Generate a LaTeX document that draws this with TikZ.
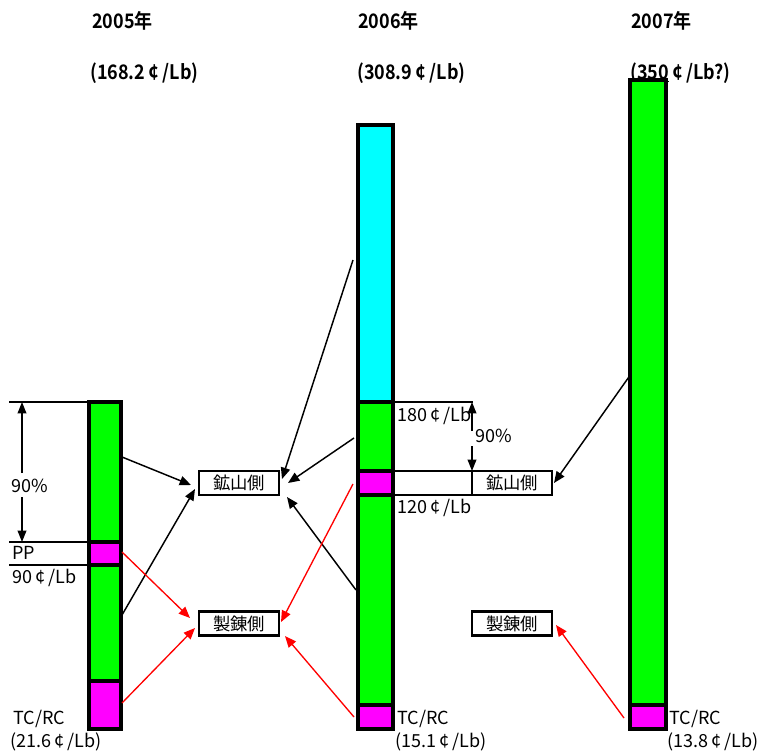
\documentclass[tikz,border=0pt]{standalone}
\usepackage{fontspec}
\setmainfont{Noto Sans CJK JP}
\newfontfamily\headfont[FakeStretch=0.9]{Noto Sans CJK JP Bold}
\usetikzlibrary{arrows.meta}
\definecolor{segG}{RGB}{0,255,0}
\definecolor{segM}{RGB}{255,0,255}
\definecolor{segC}{RGB}{0,255,255}
\definecolor{arrR}{RGB}{255,0,0}
\newcommand{\cpl}{\,¢\,/Lb}
\tikzset{
  barline/.style={draw=black, line width=3pt},
  sepline/.style={draw=black, line width=3pt},
  rule/.style={draw=black, line width=1.5pt},
  sidebox/.style={draw=black, line width=2pt, fill=white, minimum width=60pt,
    minimum height=18pt, inner sep=0pt, font=\fontsize{13}{14}\selectfont},
  lbl/.style={inner sep=0pt, anchor=west, font=\fontsize{13.5}{15}\selectfont},
  ttl/.style={inner sep=0pt, anchor=west, font=\headfont\fontsize{15}{16}\selectfont},
  blk/.style={draw=black, line width=1.1pt, -{Triangle[length=8.5pt,width=7pt]}},
  red/.style={draw=arrR, line width=1pt, -{Triangle[length=8.5pt,width=7pt]}},
  dim/.style={draw=black, line width=1.1pt, -{Triangle[length=8.5pt,width=6.5pt]}}
}
\begin{document}
\begin{tikzpicture}[x=0.75pt,y=-0.75pt]
\useasboundingbox (0,0) rectangle (758,753);

% ---- year headings
\node[ttl] (y05) at (92,21) {2005年};
\node[ttl] (p05) at (90,73) {(168.2\cpl)};
\node[ttl] (y06) at (358,21) {2006年};
\node[ttl] (p06) at (357,73) {(308.9\cpl)};
\node[ttl] (y07) at (631,21) {2007年};
\node[ttl] (p07) at (630,73) {(\underline{350}\cpl?)};

% ---- 2005 bar
\fill[segG] (89,402) rectangle (121,542);
\fill[segM] (89,542) rectangle (121,565);
\fill[segG] (89,565) rectangle (121,681);
\fill[segM] (89,681) rectangle (121,729);
\draw[sepline] (89,542) -- (121,542) (89,565) -- (121,565) (89,681) -- (121,681);
\draw[barline] (89,402) rectangle (121,729);

% ---- 2006 bar
\fill[segC] (358,125) rectangle (393,402);
\fill[segG] (358,402) rectangle (393,471);
\fill[segM] (358,471) rectangle (393,495);
\fill[segG] (358,495) rectangle (393,705);
\fill[segM] (358,705) rectangle (393,729);
\draw[sepline] (358,402) -- (393,402) (358,471) -- (393,471) (358,495) -- (393,495) (358,705) -- (393,705);
\draw[barline] (358,125) rectangle (393,729);

% ---- 2007 bar
\fill[segG] (630,80) rectangle (666,705);
\fill[segM] (630,705) rectangle (666,729);
\draw[sepline] (630,705) -- (666,705);
\draw[barline] (630,80) rectangle (666,729);

% ---- 2005 reference rules and 90% span
\draw[rule] (9,402) -- (89,402);
\draw[rule] (9,542) -- (89,542);
\draw[rule] (9,565) -- (89,565);
\node[lbl] (pct05) at (11,486) {90\%};
\coordinate (d05a) at (22,473);
\coordinate (d05b) at (22,402);
\coordinate (d05c) at (22,497);
\coordinate (d05d) at (22,542);
\draw[dim] (d05a) -- (d05b);
\draw[dim] (d05c) -- (d05d);
\node[lbl] (pp) at (12,553) {PP};
\node[lbl] (pp90) at (12,578) {90\cpl};
\node[lbl] (tc05) at (13,719) {TC/RC};
\node[lbl] (tc05v) at (10,742) {(21.6\cpl)};

% ---- 2006 reference rules and 90% span
\draw[rule] (393,402) -- (473,402);
\draw[rule] (393,471) -- (473,471);
\draw[rule] (393,495) -- (473,495);
\node[lbl] (l180) at (397,416) {180\cpl};
\node[lbl] (pct06) at (475,436) {90\%};
\coordinate (d06a) at (472,431);
\coordinate (d06b) at (472,402);
\coordinate (d06c) at (472,446);
\coordinate (d06d) at (472,471);
\draw[dim] (d06a) -- (d06b);
\draw[dim] (d06c) -- (d06d);
\node[lbl] (l120) at (397,508) {120\cpl};
\node[lbl] (tc06) at (397,719) {TC/RC};
\node[lbl] (tc06v) at (395,742) {(15.1\cpl)};
\node[lbl] (tc07) at (669,719) {TC/RC};
\node[lbl] (tc07v) at (667,742) {(13.8\cpl)};

% ---- share boxes
\node[sidebox] (mineL) at (239,483) {鉱山側};
\node[sidebox] (smeltL) at (239,623.5) {製錬側};
\node[sidebox] (mineR) at (512,483) {鉱山側};
\node[sidebox] (smeltR) at (512,623.5) {製錬側};

% ---- arrow start points on the bars
\coordinate (s1) at (122,457);
\coordinate (s2) at (122,615);
\coordinate (s3) at (353,260);
\coordinate (s4) at (354,438);
\coordinate (s5) at (356,590);
\coordinate (s6) at (631,374);
\coordinate (r1) at (122,552);
\coordinate (r2) at (122,703);
\coordinate (r3) at (353,484);
\coordinate (r4) at (354,717);
\coordinate (r5) at (624,718);
% ---- arrow tips beside the boxes
\coordinate (t1) at (191,485);
\coordinate (t2) at (195,489);
\coordinate (t3) at (282,479);
\coordinate (t4) at (288,483);
\coordinate (t5) at (287,497);
\coordinate (t6) at (554,483);
\coordinate (u1) at (190,618);
\coordinate (u2) at (195,628);
\coordinate (u3) at (281,622);
\coordinate (u4) at (285,636);
\coordinate (u5) at (556,625);

\draw[blk] (s1) -- (t1);
\draw[blk] (s2) -- (t2);
\draw[blk] (s3) -- (t3);
\draw[blk] (s4) -- (t4);
\draw[blk] (s5) -- (t5);
\draw[blk] (s6) -- (t6);
\draw[red] (r1) -- (u1);
\draw[red] (r2) -- (u2);
\draw[red] (r3) -- (u3);
\draw[red] (r4) -- (u4);
\draw[red] (r5) -- (u5);
\end{tikzpicture}
\end{document}
